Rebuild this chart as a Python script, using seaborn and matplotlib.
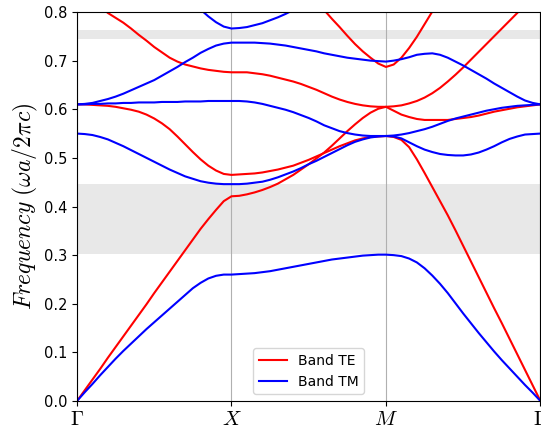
import numpy as np
import pandas as pd
import seaborn as sns
import matplotlib
matplotlib.use('Agg')
import matplotlib.pyplot as plt

plt.rcParams['mathtext.fontset'] = 'cm'

# k-path sample positions: Gamma=0, X=1, M=2, Gamma=3 (step 0.05)
k = np.round(np.arange(0, 3.001, 0.05), 2)
k_ticks = [0, 1, 2, 3]
k_labels = [r'$\Gamma$', r'$X$', r'$M$', r'$\Gamma$']
nan = np.nan

# TE bands (Gamma-X | X-M | M-Gamma)
te1 = [0.000, 0.022, 0.044, 0.066, 0.089, 0.111, 0.133, 0.155, 0.177, 0.199, 0.222,
       0.244, 0.266, 0.288, 0.310, 0.332, 0.354, 0.374, 0.393, 0.411, 0.421,
       0.422, 0.425, 0.429, 0.434, 0.440, 0.447, 0.456, 0.465, 0.476, 0.487,
       0.499, 0.511, 0.525, 0.540, 0.555, 0.569, 0.582, 0.593, 0.601, 0.605,
       0.597, 0.589, 0.584, 0.580, 0.578, 0.578, 0.578, 0.578, 0.580, 0.582,
       0.584, 0.587, 0.591, 0.595, 0.598, 0.601, 0.604, 0.606, 0.608, 0.610]
te2 = [0.610, 0.610, 0.609, 0.608, 0.607, 0.605, 0.602, 0.599, 0.595, 0.589, 0.581,
       0.571, 0.559, 0.544, 0.528, 0.512, 0.497, 0.484, 0.474, 0.467, 0.465,
       0.466, 0.467, 0.468, 0.470, 0.473, 0.476, 0.480, 0.484, 0.490, 0.496,
       0.503, 0.510, 0.517, 0.524, 0.530, 0.536, 0.540, 0.543, 0.544, 0.545,
       0.543, 0.537, 0.522, 0.497, 0.469, 0.440, 0.411, 0.382, 0.351, 0.319,
       0.287, 0.255, 0.223, 0.191, 0.160, 0.128, 0.096, 0.064, 0.032, 0.000]
te3 = [0.850, 0.838, 0.826, 0.812, 0.798, 0.788, 0.778, 0.766, 0.753, 0.741, 0.728,
       0.717, 0.706, 0.698, 0.692, 0.688, 0.684, 0.681, 0.679, 0.677, 0.676,
       0.676, 0.676, 0.674, 0.672, 0.669, 0.665, 0.661, 0.657, 0.652, 0.646,
       0.640, 0.633, 0.626, 0.620, 0.615, 0.611, 0.608, 0.606, 0.605, 0.605,
       0.606, 0.608, 0.612, 0.617, 0.624, 0.633, 0.644, 0.657, 0.671, 0.686,
       0.702, 0.718, 0.734, 0.750, 0.766, 0.782, 0.798, 0.815, 0.830, 0.845]
te4 = [nan] * 30 + [0.840, 0.822, 0.804, 0.786, 0.769, 0.751, 0.734, 0.719, 0.706, 0.694,
                    0.687, 0.692, 0.706, 0.726, 0.749, 0.775, 0.801, 0.826, 0.850] + [nan] * 12

# TM bands
tm1 = [0.000, 0.018, 0.035, 0.053, 0.070, 0.087, 0.103, 0.118, 0.133, 0.148, 0.162,
       0.176, 0.190, 0.204, 0.218, 0.232, 0.243, 0.252, 0.2575, 0.260, 0.260,
       0.261, 0.262, 0.263, 0.265, 0.267, 0.270, 0.273, 0.276, 0.279, 0.282,
       0.285, 0.288, 0.291, 0.293, 0.295, 0.297, 0.299, 0.300, 0.301, 0.301,
       0.300, 0.298, 0.293, 0.285, 0.273, 0.258, 0.241, 0.222, 0.201, 0.180,
       0.160, 0.140, 0.121, 0.102, 0.084, 0.067, 0.050, 0.033, 0.017, 0.000]
tm2 = [0.550, 0.549, 0.547, 0.543, 0.538, 0.531, 0.524, 0.516, 0.508, 0.500, 0.492,
       0.484, 0.476, 0.469, 0.462, 0.457, 0.452, 0.449, 0.447, 0.446, 0.446,
       0.446, 0.447, 0.449, 0.451, 0.455, 0.460, 0.466, 0.472, 0.479, 0.487,
       0.494, 0.502, 0.510, 0.518, 0.526, 0.533, 0.538, 0.542, 0.544, 0.545,
       0.544, 0.540, 0.532, 0.524, 0.517, 0.512, 0.508, 0.506, 0.505, 0.505,
       0.507, 0.511, 0.517, 0.524, 0.532, 0.539, 0.544, 0.548, 0.549, 0.550]
tm3 = [0.610, 0.610, 0.611, 0.611, 0.612, 0.612, 0.613, 0.613, 0.614, 0.614, 0.614,
       0.615, 0.615, 0.615, 0.616, 0.616, 0.616, 0.617, 0.617, 0.617, 0.617,
       0.617, 0.616, 0.614, 0.611, 0.607, 0.603, 0.599, 0.594, 0.588, 0.582,
       0.575, 0.567, 0.561, 0.555, 0.551, 0.548, 0.546, 0.545, 0.545, 0.545,
       0.546, 0.548, 0.551, 0.555, 0.559, 0.564, 0.570, 0.576, 0.581, 0.585,
       0.589, 0.593, 0.597, 0.600, 0.603, 0.605, 0.607, 0.608, 0.609, 0.610]
tm4 = [0.610, 0.611, 0.613, 0.617, 0.621, 0.626, 0.632, 0.639, 0.646, 0.653, 0.660,
       0.669, 0.678, 0.687, 0.697, 0.706, 0.716, 0.724, 0.731, 0.735, 0.737,
       0.737, 0.737, 0.737, 0.736, 0.735, 0.733, 0.731, 0.728, 0.725, 0.722,
       0.719, 0.715, 0.712, 0.709, 0.706, 0.704, 0.702, 0.700, 0.699, 0.698,
       0.700, 0.703, 0.707, 0.712, 0.714, 0.715, 0.712, 0.706, 0.698, 0.690,
       0.681, 0.672, 0.663, 0.653, 0.644, 0.635, 0.626, 0.618, 0.613, 0.610]
tm5 = [nan] * 12 + [0.870, 0.852, 0.835, 0.819, 0.805, 0.791, 0.779, 0.770, 0.766,
                    0.767, 0.769, 0.773, 0.777, 0.783, 0.789, 0.796, 0.804, 0.812,
                    0.820, 0.830, 0.840] + [nan] * 28

# complete band gaps
gaps = [(0.302, 0.447), (0.745, 0.763)]

te_bands = [te1, te2, te3, te4]
tm_bands = [tm1, tm2, tm3, tm4, tm5]

fig = plt.figure(figsize=(5.41, 4.30), dpi=100)
ax = fig.add_axes([0.1423, 0.0674, 0.8567, 0.9047])

for lo, hi in gaps:
    ax.axhspan(lo, hi, color='0.91', lw=0, zorder=0)

for i, band in enumerate(te_bands):
    d = pd.DataFrame({'k': k, 'f': band}).dropna()
    sns.lineplot(data=d, x='k', y='f', color='red', lw=1.5, ax=ax,
                 label='Band TE' if i == 0 else None, estimator=None, sort=False)
for i, band in enumerate(tm_bands):
    d = pd.DataFrame({'k': k, 'f': band}).dropna()
    sns.lineplot(data=d, x='k', y='f', color='blue', lw=1.5, ax=ax,
                 label='Band TM' if i == 0 else None, estimator=None, sort=False)

ax.set_xlim(0, 3)
ax.set_ylim(0, 0.8)
ax.set_xticks(k_ticks)
ax.set_xticklabels(k_labels, fontsize=15)
ax.tick_params(axis='x', length=3.5, pad=2)
ax.set_yticks(np.round(np.arange(0, 0.81, 0.1), 1))
ax.tick_params(axis='y', labelsize=10.5)
ax.xaxis.grid(True, color='#b0b0b0', lw=0.8)
ax.set_xlabel('')
ax.set_ylabel(r'$Frequency\ (\omega a/2\pi c)$', fontsize=17, labelpad=3)
ax.legend(loc='lower center', fontsize=10)

fig.savefig('out.png', dpi=100)
